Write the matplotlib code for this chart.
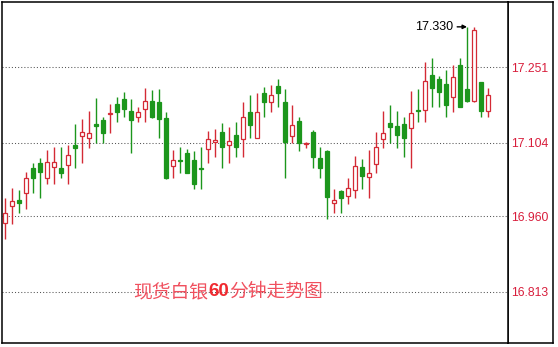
import matplotlib
matplotlib.use("Agg")
import matplotlib.pyplot as plt
from matplotlib.patches import Rectangle

# 60-minute spot silver candles
opens = [16.947, 16.980, 16.992, 17.005, 17.054, 17.064, 17.034, 17.056, 17.055, 17.060,
         17.099, 17.116, 17.114, 17.140, 17.148, 17.159, 17.179, 17.189, 17.166, 17.155,
         17.170, 17.185, 17.183, 17.152, 17.058, 17.070, 17.084, 17.070, 17.055, 17.091,
         17.105, 17.124, 17.099, 17.119, 17.112, 17.164, 17.114, 17.201, 17.184, 17.215,
         17.183, 17.116, 17.146, 17.102, 17.125, 17.074, 17.088, 16.986, 17.010, 17.000,
         17.011, 17.056, 17.037, 17.062, 17.111, 17.142, 17.136, 17.140, 17.132, 17.168,
         17.167, 17.236, 17.228, 17.218, 17.194, 17.256, 17.209, 17.185, 17.222, 17.166]
highs = [16.995, 17.015, 17.012, 17.047, 17.064, 17.074, 17.090, 17.096, 17.096, 17.099,
         17.140, 17.150, 17.166, 17.191, 17.155, 17.179, 17.194, 17.203, 17.189, 17.174,
         17.211, 17.207, 17.209, 17.164, 17.090, 17.096, 17.092, 17.088, 17.096, 17.127,
         17.131, 17.142, 17.135, 17.144, 17.183, 17.197, 17.201, 17.213, 17.217, 17.228,
         17.209, 17.177, 17.154, 17.105, 17.129, 17.096, 17.089, 17.014, 17.011, 17.035,
         17.077, 17.072, 17.090, 17.125, 17.166, 17.177, 17.166, 17.154, 17.205, 17.209,
         17.261, 17.269, 17.234, 17.246, 17.256, 17.269, 17.330, 17.330, 17.223, 17.211]
lows = [16.915, 16.945, 16.966, 16.975, 17.005, 16.995, 17.024, 17.024, 17.034, 17.024,
        17.055, 17.065, 17.094, 17.104, 17.104, 17.123, 17.145, 17.155, 17.084, 17.145,
        17.145, 17.153, 17.114, 17.033, 17.034, 17.045, 17.044, 17.014, 17.014, 17.065,
        17.075, 17.055, 17.065, 17.075, 17.075, 17.114, 17.113, 17.155, 17.164, 17.174,
        17.034, 17.104, 17.088, 17.094, 17.055, 17.034, 16.954, 16.966, 16.966, 16.985,
        16.995, 17.014, 16.995, 17.045, 17.094, 17.104, 17.094, 17.075, 17.055, 17.145,
        17.145, 17.174, 17.174, 17.155, 17.164, 17.173, 17.184, 17.184, 17.155, 17.155]
closes = [16.966, 16.990, 16.987, 17.034, 17.034, 17.047, 17.066, 17.066, 17.045, 17.079,
          17.094, 17.124, 17.122, 17.137, 17.123, 17.162, 17.164, 17.170, 17.149, 17.163,
          17.185, 17.155, 17.151, 17.034, 17.071, 17.069, 17.045, 17.024, 17.053, 17.112,
          17.109, 17.096, 17.107, 17.096, 17.154, 17.138, 17.164, 17.183, 17.197, 17.201,
          17.106, 17.138, 17.104, 17.104, 17.075, 17.055, 16.998, 16.992, 16.995, 17.015,
          17.058, 17.039, 17.044, 17.096, 17.122, 17.134, 17.118, 17.114, 17.161, 17.166,
          17.224, 17.211, 17.203, 17.178, 17.233, 17.174, 17.185, 17.323, 17.166, 17.196]

price_ticks = [17.251, 17.104, 16.960, 16.813]
peak_label = "17.330"
peak_index = 66
title_parts = ["现货白银", "60", "分钟走势图"]

RED = "#d42a35"
GREEN = "#1c961c"
LABEL_RED = "#d81e3c"

W, H = 558, 347
fig = plt.figure(figsize=(W / 100, H / 100), dpi=100)
fig.patch.set_facecolor("white")

# narrow price label panel on the right, drawn first and transparent
side = fig.add_axes([508 / W, 4 / H, 45 / W, 341 / H])
side.set_facecolor("none")
side.set_xticks([])
side.set_yticks([])

# main candle panel
ax = fig.add_axes([2 / W, 4 / H, 506 / W, 341 / H])
for a in (ax, side):
    for s in a.spines.values():
        s.set_color("black")
        s.set_linewidth(1.1)

for y in price_ticks:
    ax.axhline(y, color="#555555", lw=0.75, ls=(0, (1, 2)), zorder=1)

body_w = 0.66
for i in range(len(opens)):
    o, h, l, c = opens[i], highs[i], lows[i], closes[i]
    up = c >= o
    col = RED if up else GREEN
    ax.vlines(i, l, h, color=col, lw=1.0, zorder=2)
    bot = min(o, c)
    hgt = abs(c - o)
    face = "white" if up and hgt > 0.003 else col
    ax.add_patch(Rectangle((i - body_w / 2, bot), body_w, hgt,
                           facecolor=face, edgecolor=col, lw=0.9, zorder=3))

ax.set_xlim(-3 / 7, 506 / 7 - 3 / 7)
ax.set_ylim(16.7129, 17.3785)
ax.set_xticks([])
ax.yaxis.tick_right()
ax.set_yticks(price_ticks)
ax.set_yticklabels([f"{v:.3f}" for v in price_ticks])
ax.tick_params(axis="y", length=0, pad=2.5, labelcolor=LABEL_RED, labelsize=8.8)
for t in ax.get_yticklabels():
    t.set_fontfamily(["Liberation Sans", "DejaVu Sans"])

ax.annotate(peak_label, xy=(peak_index, highs[peak_index]), xytext=(-14, 0),
            textcoords="offset pixels", ha="right", va="center", fontsize=9,
            family=["Liberation Sans", "DejaVu Sans"], color="black",
            arrowprops=dict(arrowstyle="-|>", color="black", lw=1.0,
                            mutation_scale=6, shrinkA=1, shrinkB=0))

# title written in three pieces so "60" can be bold
t1 = ax.text(18.3, 16.813, title_parts[0], ha="left", va="center",
             fontsize=13.5, color="#f0505e", family=["Noto Sans CJK SC", "DejaVu Sans"], zorder=5)
t2 = ax.annotate(title_parts[1], xy=(1, 0.5), xycoords=t1, ha="left", va="center",
                 fontsize=13.5, fontweight="bold", color="#f02a30",
                 family=["Liberation Sans", "DejaVu Sans"], zorder=5)
ax.annotate(title_parts[2], xy=(1, 0.5), xycoords=t2, ha="left", va="center",
            fontsize=13.5, color="#f0505e", family=["Noto Sans CJK SC", "DejaVu Sans"], zorder=5)

fig.savefig("out.png", dpi=100, facecolor="white")
